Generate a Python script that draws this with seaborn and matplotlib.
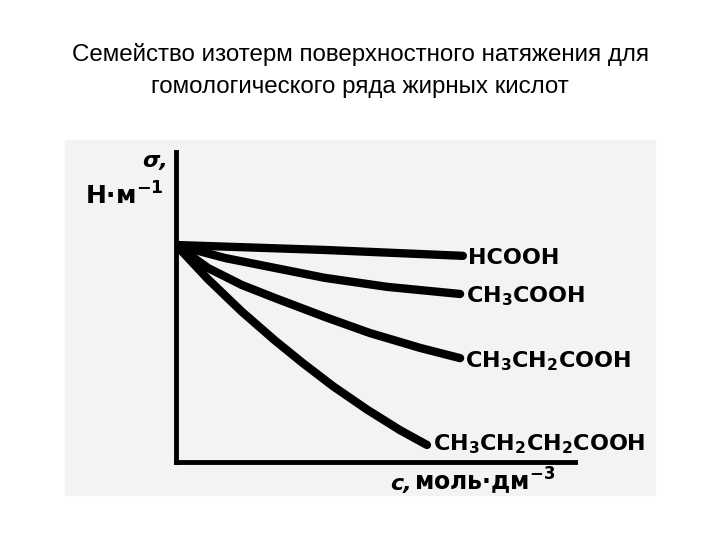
import matplotlib
matplotlib.use("Agg")
import matplotlib.pyplot as plt
import pandas as pd
import seaborn as sns
from matplotlib.patches import Rectangle

# curve data (c in arbitrary units, sigma in arbitrary units)
acids = ["HCOOH", "CH3COOH", "CH3CH2COOH", "CH3CH2CH2COOH"]
labels = [
    "HCOOH",
    r"CH$_\mathbf{3}$COOH",
    r"CH$_\mathbf{3}$CH$_\mathbf{2}$COOH",
    r"CH$_\mathbf{3}$CH$_\mathbf{2}$CH$_\mathbf{2}$COOH",
]
c_hcooh = [0.0, 3.73, 7.19]
s_hcooh = [7.0, 6.84, 6.65]
c_acetic = [0.0, 1.23, 2.48, 3.73, 5.29, 7.12]
s_acetic = [7.0, 6.58, 6.26, 5.94, 5.65, 5.42]
c_propionic = [0.0, 0.80, 1.65, 2.48, 3.73, 4.86, 6.12, 7.12]
s_propionic = [7.0, 6.26, 5.71, 5.29, 4.68, 4.16, 3.68, 3.35]
c_butyric = [0.0, 0.80, 1.65, 2.48, 3.16, 3.93, 4.79, 5.61, 6.29]
s_butyric = [7.0, 5.90, 4.85, 3.92, 3.21, 2.45, 1.69, 1.03, 0.55]

title_lines = [
    "Семейство изотерм поверхностного натяжения для",
    "гомологического ряда жирных кислот",
]

series = [
    (c_hcooh, s_hcooh),
    (c_acetic, s_acetic),
    (c_propionic, s_propionic),
    (c_butyric, s_butyric),
]
rows = []
for name, (cs, ss) in zip(acids, series):
    for c, s in zip(cs, ss):
        rows.append({"acid": name, "c": c, "sigma": s})
df = pd.DataFrame(rows)

sns.set_theme(style="white")
plt.rcParams["font.family"] = ["DejaVu Sans"]
plt.rcParams["mathtext.fontset"] = "dejavusans"
plt.rcParams["text.color"] = "black"

fig = plt.figure(figsize=(7.2, 5.4), dpi=100)
fig.patch.set_facecolor("white")

# light grey scanned-page background, behind the axes
fig.patches.append(
    Rectangle((65 / 720, 1 - 495 / 540), 590 / 720, 355 / 540,
              transform=fig.transFigure, color="#f3f3f3", zorder=-5)
)

# title
fig.text(0.5, 1 - 61 / 540, title_lines[0], ha="center", va="baseline",
         fontsize=17.4, family=["Liberation Sans", "DejaVu Sans"])
fig.text(0.5, 1 - 93 / 540, title_lines[1], ha="center", va="baseline",
         fontsize=17.4, family=["Liberation Sans", "DejaVu Sans"])

ax = fig.add_axes([176 / 720, 1 - 462 / 540, 399 / 720, 310 / 540])
ax.patch.set_alpha(0)

sns.lineplot(data=df, x="c", y="sigma", hue="acid", hue_order=acids,
             palette=["black"] * 4, linewidth=6, sort=False, legend=False,
             ax=ax, solid_capstyle="round", solid_joinstyle="round")

ax.set_xlim(0, 10)
ax.set_ylim(0, 10)
ax.set_xticks([])
ax.set_yticks([])
ax.set_xlabel("")
ax.set_ylabel("")
for side in ["top", "right"]:
    ax.spines[side].set_visible(False)
for side in ["left", "bottom"]:
    ax.spines[side].set_color("black")
    ax.spines[side].set_linewidth(3.5)

# curve labels at line ends
offsets = [(5, -8), (6, -8), (5, -9), (6, -5)]
for (cs, ss), lab, off in zip(series, labels, offsets):
    ax.annotate(lab, xy=(cs[-1], ss[-1]), xytext=off, textcoords="offset pixels",
                ha="left", va="baseline", fontsize=16, fontweight="bold")

# axis labels
fig.text(168 / 720, 1 - 167 / 540, "σ,", ha="right", va="baseline",
         fontsize=16, fontweight="bold", style="italic")
fig.text(164 / 720, 1 - 205 / 540, r"Н·м$^{\mathbf{-1}}$", ha="right",
         va="baseline", fontsize=18, fontweight="bold")
fig.text(390 / 720, 1 - 490 / 540, "c,", ha="left", va="baseline",
         fontsize=16, fontweight="bold", style="italic")
fig.text(414 / 720, 1 - 490 / 540, r"моль·дм$^{\mathbf{-3}}$", ha="left",
         va="baseline", fontsize=17, fontweight="bold")

fig.savefig("out.png", dpi=100, facecolor="white")
